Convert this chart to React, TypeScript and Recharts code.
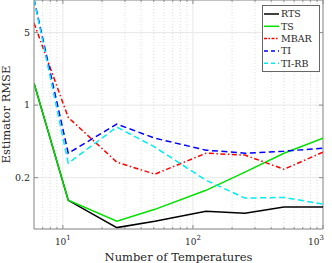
import React from 'react';
import { LineChart, Line, XAxis, YAxis, CartesianGrid, ReferenceLine, Legend } from 'recharts';

const temps = [6, 11, 26, 51, 126, 251, 501, 1000];
const rts = [1.63, 0.121, 0.066, 0.076, 0.095, 0.091, 0.104, 0.104];
const ts = [1.63, 0.121, 0.076, 0.099, 0.151, 0.226, 0.344, 0.48];
const mbar = [6.18, 0.76, 0.282, 0.216, 0.344, 0.33, 0.241, 0.352];
const ti = [10.5, 0.344, 0.656, 0.48, 0.368, 0.344, 0.36, 0.385];
const tirb = [10.4, 0.276, 0.614, 0.394, 0.189, 0.127, 0.129, 0.111];

const xTicks = [10, 100, 1000];
const xMinor = [7, 8, 9, 20, 30, 40, 50, 60, 70, 80, 90, 200, 300, 400, 500, 600, 700, 800, 900];
const yTicks = [0.2, 1, 5];
const xDomain = [6, 1000];
const yDomain = [0.064, 10.3];

const data = temps.map((t, i) => ({ t, RTS: rts[i], TS: ts[i], MBAR: mbar[i], TI: ti[i], TIRB: tirb[i] }));

const series = [
  { key: 'RTS', name: 'RTS', color: '#000000', dash: undefined as string | undefined },
  { key: 'TS', name: 'TS', color: '#00e000', dash: undefined as string | undefined },
  { key: 'MBAR', name: 'MBAR', color: '#ff0000', dash: '5 2.5 1.5 2.5' },
  { key: 'TI', name: 'TI', color: '#0000ff', dash: '6 3.5' },
  { key: 'TIRB', name: 'TI-RB', color: '#00eeee', dash: '6 3.5' },
];

const FONT = '"DejaVu Serif", serif';
const TXT = '#262626';
const AX = '#8c8c8c';

const XTick = (props: any) => {
  const { x, y, payload } = props;
  const exp = Math.round(Math.log10(payload.value));
  return (
    <text x={x} y={y + 16} textAnchor="middle" fontFamily={FONT} fontSize={9} fill={TXT}>
      <tspan>10</tspan>
      <tspan dy={-5} fontSize={7}>{exp}</tspan>
    </text>
  );
};

const YTick = (props: any) => {
  const { x, y, payload } = props;
  return (
    <text x={x} y={y} dy="0.35em" textAnchor="end" fontFamily={FONT} fontSize={9.5} fill={TXT}>
      {String(payload.value)}
    </text>
  );
};

const LegendBox = () => (
  <svg width={58} height={67} style={{ display: 'block' }}>
    <rect x={0.5} y={0.5} width={57} height={66} fill="#ffffff" stroke="#666666" />
    {series.map((s, i) => {
      const cy = 9 + i * 12.3;
      return (
        <g key={s.key}>
          <line x1={2} x2={17} y1={cy} y2={cy} stroke={s.color} strokeWidth={1.5} strokeDasharray={s.dash ? (s.key === 'MBAR' ? '3 1.5 1.5 1.5' : '4 3') : undefined} />
          <text x={19} y={cy} dy="0.35em" fontFamily={FONT} fontSize={9.5} fill={TXT}>{s.name}</text>
        </g>
      );
    })}
  </svg>
);

const tickLen = (px: number) => Math.pow(10, px / 103.8);
const xTickLen = (px: number) => Math.pow(10, px / 130);

export default function App() {
  return (
    <div style={{ position: 'absolute', left: 0, top: 0, width: 332, height: 263, background: '#fff' }}>
      <LineChart width={332} height={263} data={data} margin={{ top: 0, right: 9, left: 0, bottom: 0 }}>
        <CartesianGrid stroke="#e8e8e8" strokeWidth={1} horizontal vertical />
        {xMinor.map((v) => (
          <ReferenceLine key={'mg' + v} x={v} stroke="#d6d6d6" strokeDasharray="1 2" strokeWidth={0.8} />
        ))}
        <XAxis
          dataKey="t"
          type="number"
          scale="log"
          domain={xDomain}
          ticks={xTicks}
          allowDataOverflow
          height={34}
          tickSize={0}
          tickMargin={0}
          tick={<XTick />}
          axisLine={{ stroke: AX }}
          tickLine={false}
          label={{
            content: (p: any) => {
              const vb = p.viewBox;
              return (
                <text x={vb.x + vb.width / 2} y={vb.y + 32} textAnchor="middle" fontFamily={FONT} fontSize={11.5} fill={TXT}>
                  Number of Temperatures
                </text>
              );
            },
          }}
        />
        <YAxis
          type="number"
          scale="log"
          domain={yDomain}
          ticks={yTicks}
          allowDataOverflow
          width={34}
          tickSize={0}
          tickMargin={4}
          tick={<YTick />}
          axisLine={{ stroke: AX }}
          tickLine={false}
          label={{
            content: (p: any) => {
              const vb = p.viewBox;
              const cx = vb.x + 6;
              const cy = vb.y + vb.height / 2;
              return (
                <text x={cx} y={cy} dy="0.35em" transform={`rotate(-90 ${cx} ${cy})`} textAnchor="middle" fontFamily={FONT} fontSize={11.5} fill={TXT}>
                  Estimator RMSE
                </text>
              );
            },
          }}
        />
        <ReferenceLine y={yDomain[1]} stroke={AX} />
        <ReferenceLine x={xDomain[1]} stroke={AX} />
        {xTicks.map((v) => (
          <ReferenceLine key={'bt' + v} segment={[{ x: v, y: yDomain[0] }, { x: v, y: yDomain[0] * tickLen(4) }]} stroke={AX} />
        ))}
        {xTicks.map((v) => (
          <ReferenceLine key={'tt' + v} segment={[{ x: v, y: yDomain[1] }, { x: v, y: yDomain[1] / tickLen(4) }]} stroke={AX} />
        ))}
        {xMinor.map((v) => (
          <ReferenceLine key={'bm' + v} segment={[{ x: v, y: yDomain[0] }, { x: v, y: yDomain[0] * tickLen(2) }]} stroke={AX} />
        ))}
        {xMinor.map((v) => (
          <ReferenceLine key={'tm' + v} segment={[{ x: v, y: yDomain[1] }, { x: v, y: yDomain[1] / tickLen(2) }]} stroke={AX} />
        ))}
        {yTicks.map((v) => (
          <ReferenceLine key={'lt' + v} segment={[{ x: xDomain[0], y: v }, { x: xDomain[0] * xTickLen(4), y: v }]} stroke={AX} />
        ))}
        {yTicks.map((v) => (
          <ReferenceLine key={'rt' + v} segment={[{ x: xDomain[1], y: v }, { x: xDomain[1] / xTickLen(4), y: v }]} stroke={AX} />
        ))}
        {series.map((s) => (
          <Line
            key={s.key}
            dataKey={s.key}
            name={s.name}
            type="linear"
            stroke={s.color}
            strokeWidth={1.5}
            strokeDasharray={s.dash}
            dot={false}
            activeDot={false}
            isAnimationActive={false}
          />
        ))}
        <Legend
          layout="horizontal"
          verticalAlign="middle"
          align="center"
          content={<LegendBox />}
          wrapperStyle={{ position: 'absolute', left: 262, top: 5, width: 58, height: 67, margin: 0, padding: 0 }}
        />
      </LineChart>
    </div>
  );
}
